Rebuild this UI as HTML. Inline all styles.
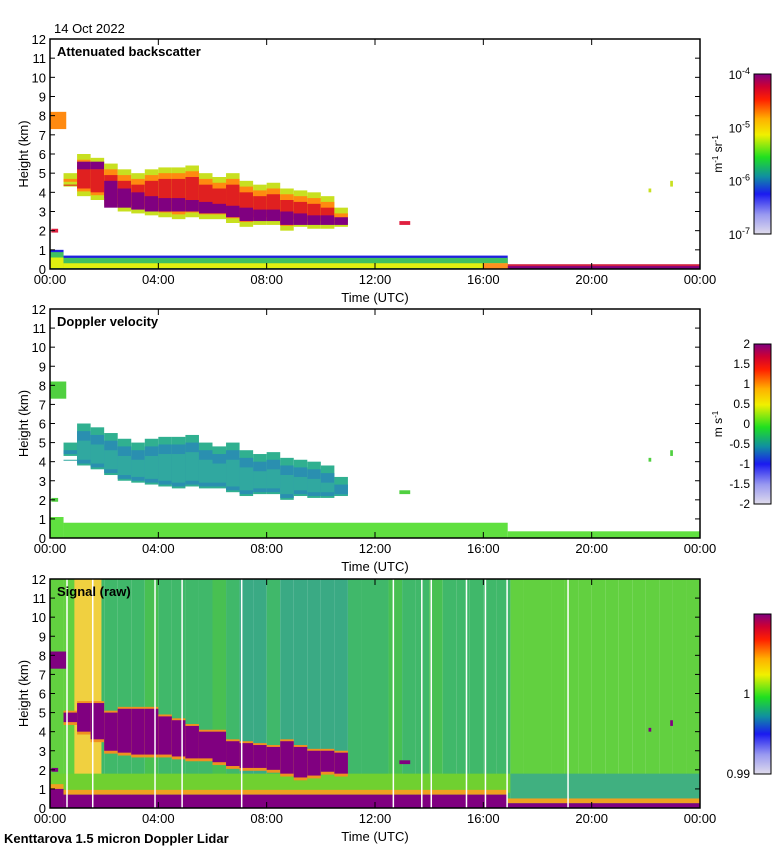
<!DOCTYPE html>
<html><head><meta charset="utf-8">
<style>
body{margin:0;background:#fff;width:780px;height:850px;overflow:hidden;font-family:"Liberation Sans",sans-serif}
svg text{font-family:"Liberation Sans",sans-serif}
</style></head>
<body>
<svg id="chart" width="780" height="850" xmlns="http://www.w3.org/2000/svg">
<defs>
<linearGradient id="cbar" x1="0" y1="1" x2="0" y2="0">
<stop offset="0" stop-color="#e0dcec"/><stop offset="0.12" stop-color="#9a9af0"/><stop offset="0.25" stop-color="#1a1af0"/>
<stop offset="0.36" stop-color="#1090a0"/><stop offset="0.48" stop-color="#20e020"/><stop offset="0.62" stop-color="#f0f000"/>
<stop offset="0.72" stop-color="#ffb000"/><stop offset="0.84" stop-color="#ff2000"/><stop offset="0.92" stop-color="#d00030"/><stop offset="1" stop-color="#800080"/>
</linearGradient>
</defs>
</svg>
<script>
// ---- data (hours, km) ----
const times = [0.5,1,1.5,2,2.5,3,3.5,4,4.5,5,5.5,6,6.5,7,7.5,8,8.5,9,9.5,10,10.5];
const cloudTop = [5.0,6.0,5.8,5.5,5.2,5.0,5.2,5.3,5.3,5.4,5.0,4.8,5.0,4.6,4.4,4.5,4.2,4.1,4.0,3.8,3.2];
const cloudBase = [4.3,3.8,3.6,3.3,3.0,2.9,2.8,2.7,2.6,2.7,2.6,2.6,2.4,2.2,2.3,2.3,2.0,2.2,2.1,2.1,2.2];
const coreTop = [0,5.6,5.6,4.6,4.2,4.0,3.8,3.7,3.7,3.6,3.5,3.4,3.3,3.2,3.1,3.1,3.0,2.9,2.8,2.8,2.7];
const coreBase = [0,5.2,5.2,3.2,3.2,3.1,3.0,3.0,3.0,3.0,2.9,2.9,2.7,2.5,2.5,2.5,2.3,2.3,2.3,2.3,2.3];
const sigTop = [5.0,5.5,5.5,5.0,5.2,5.2,5.2,4.8,4.6,4.3,4.0,4.0,3.5,3.4,3.3,3.2,3.5,3.2,3.0,3.0,2.9];
const sigBase = [4.5,4.0,3.6,3.0,2.9,2.8,2.8,2.8,2.7,2.6,2.6,2.4,2.2,2.1,2.1,2.0,1.8,1.6,1.7,1.9,1.8];
const blobs = [[0,0.6,7.3,8.2],[0.05,0.3,1.9,2.1],[12.9,13.3,2.3,2.5],[22.1,22.2,4.0,4.2],[22.9,23.0,4.3,4.6]];
const blHours = [0,0.5,16.9,24];
const blHeight = [1.0,0.7,0.25];
const sigTone = [0.2,0.3,0.1,0.5,0.6,0.6,0.5,0.4,0.5,0.5,0.6,0.5,0.4,0.6,0.7,0.7,0.6,0.7,0.8,0.7,0.8,0.8,0.6,0.5,0.6,0.4,0.5,0.5,0.4,0.5,0.6,0.5,0.5,0.6,0.3,0.3,0.2,0.3,0.3,0.2,0.2,0.3,0.2,0.2,0.1,0.2,0.2,0.3];
const whiteLines = [0.6,1.55,3.85,4.85,7.05,12.65,13.7,14.05,15.35,16.05,16.85,19.1];
const xTicks = ["00:00","04:00","08:00","12:00","16:00","20:00","00:00"];
const yTicks = [0,1,2,3,4,5,6,7,8,9,10,11,12];
const cb1Labels = ["-4","-5","-6","-7"];
const cb2Labels = ["2","1.5","1","0.5","0","-0.5","-1","-1.5","-2"];

const svg = document.getElementById('chart');
const NS = 'http://www.w3.org/2000/svg';
const X0 = 50, X1 = 700;
const panels = [{top:39,bottom:269,title:'Attenuated backscatter'},{top:309,bottom:538,title:'Doppler velocity'},{top:579,bottom:808,title:'Signal (raw)'}];
function xs(h){return X0 + (X1 - X0) * h / 24;}
function ysF(p){return k => p.bottom - (p.bottom - p.top) * k / 12;}
function mk(tag, attrs, parent){const e=document.createElementNS(NS,tag);for(const k in attrs)e.setAttribute(k,attrs[k]);(parent||svg).appendChild(e);return e;}
function rect(g,h0,h1,k0,k1,ys,fill){return mk('rect',{x:xs(h0),y:ys(k1),width:Math.max(1,xs(h1)-xs(h0)),height:Math.max(1,ys(k0)-ys(k1)),fill:fill},g);}
function txt(x,y,s,opt,parent){const t=mk('text',Object.assign({x:x,y:y,'font-size':13,fill:'#000'},opt||{}),parent);t.textContent=s;return t;}

const dt = 0.5;
panels.forEach((p,pi)=>{
  const ys = ysF(p);
  const g = mk('g',{});
  
  
  if(pi===2){
    for(let i=0;i<sigTone.length;i++){
      const v=sigTone[i];
      const c = v>0.6?'#3aaa84':v>0.45?'#40b86a':v>0.3?'#48c052':'#62d040';
      rect(g,i*dt,(i+1)*dt,0,12,ys,c);
    }
    rect(g,0.9,1.9,0.8,12,ys,'#f0d040');
    rect(g,0,17,0.8,1.8,ys,'#70d030');
    rect(g,17,24,0.25,1.8,ys,'#40b080');
  }
  // main cloud
  times.forEach((t,i)=>{
    if(pi===0){
      rect(g,t,t+dt,cloudBase[i],cloudTop[i],ys,'#c8e020');
      rect(g,t,t+dt,cloudBase[i]+0.25,cloudTop[i]-0.3,ys,'#ff8a10');
      rect(g,t,t+dt,cloudBase[i]+0.4,cloudTop[i]-0.6,ys,'#e02020');
      if(coreTop[i]>0) rect(g,t,t+dt,coreBase[i],coreTop[i],ys,'#800080');
    } else if(pi===1){
      rect(g,t,t+dt,cloudBase[i],cloudTop[i],ys,'#30b090');
      rect(g,t,t+dt,cloudBase[i]+0.1,cloudTop[i]-0.4,ys,'#2a8fb0');
      rect(g,t,t+dt,cloudBase[i]+0.3,cloudTop[i]-0.9,ys,'#30a8a0');
    } else {
      rect(g,t,t+dt,sigBase[i]-0.15,sigTop[i]+0.1,ys,'#f09020');
      rect(g,t,t+dt,sigBase[i],sigTop[i],ys,'#800080');
    }
  });
  blobs.forEach(b=>{
    const c = pi===0?(b[2]>7?'#ff8a10':b[2]>3.5?'#c8e020':'#e02040'):pi===1?'#50d040':'#800080';
    rect(g,b[0],b[1],b[2],b[3],ys,c);
  });
  // boundary layer
  for(let i=0;i<blHours.length-1;i++){
    const h=blHeight[i];
    if(pi===0){
      if(blHours[i]<16.9){
        rect(g,blHours[i],blHours[i+1],0,h,ys,'#2020e0');
        rect(g,blHours[i],blHours[i+1],0,h-0.12,ys,'#40c060');
        rect(g,blHours[i],blHours[i+1],0.05,h-0.4,ys,'#e0f010');
      } else {
        rect(g,blHours[i],blHours[i+1],0,h,ys,'#d02040');
        rect(g,blHours[i],blHours[i+1],0,h-0.1,ys,'#800080');
      }
    } else if(pi===1){
      rect(g,blHours[i],blHours[i+1],0,h+0.1,ys,'#60e040');
    } else {
      rect(g,blHours[i],blHours[i+1],h,h+0.25,ys,'#f0a020');
      rect(g,blHours[i],blHours[i+1],0,h,ys,'#800080');
    }
  }
  if(pi===0) rect(g,16,16.9,0,0.3,ys,'#ff9020');
  if(pi===2){
    whiteLines.forEach(h=>{const l=mk('rect',{x:xs(h),y:p.top,width:1.5,height:p.bottom-p.top,fill:'#fff'},g);
      });
  }
  // frame & ticks
  const fr = mk('rect',{x:X0,y:p.top,width:X1-X0,height:p.bottom-p.top,fill:'none',stroke:'#000','stroke-width':1.5});
  
  
  yTicks.forEach(k=>{
    const y=ys(k);
    mk('line',{x1:X0,x2:X0+5,y1:y,y2:y,stroke:'#000'});
    mk('line',{x1:X1-5,x2:X1,y1:y,y2:y,stroke:'#000'});
    const t=txt(X0-4,y+5,String(k),{'text-anchor':'end'});
    
    
  });
  xTicks.forEach((s,i)=>{
    const x=xs(i*4);
    mk('line',{x1:x,x2:x,y1:p.bottom-6,y2:p.bottom,stroke:'#000'});
    mk('line',{x1:x,x2:x,y1:p.top,y2:p.top+6,stroke:'#000'});
    const t=txt(x,p.bottom+15,s,{'text-anchor':'middle'});
    
    
  });
  const tt=txt(X0+7,p.top+17,p.title,{'font-weight':'bold'});
  
  
  const xl=txt(375,p.bottom+33,'Time (UTC)',{'text-anchor':'middle'});
  
  
  const yl=txt(0,0,'Height (km)',{'text-anchor':'middle',transform:`translate(28,${(p.top+p.bottom)/2}) rotate(-90)`});
  
  
  // colorbar
  const cy0=p.top+35, cy1=p.top+195;
  const cb=mk('rect',{x:754,y:cy0,width:17,height:cy1-cy0,fill:'url(#cbar)',stroke:'#000'});
  
  
  if(pi===0){
    cb1Labels.forEach((s,i)=>{const y=cy0+i*(cy1-cy0)/3;
      const t=txt(750,y+5,'10',{'text-anchor':'end','font-size':12});
      const sp=mk('tspan',{dy:-5,'font-size':9},t);sp.textContent=s;
      });
    const u=txt(0,0,'m',{'text-anchor':'middle','font-size':12,transform:`translate(722,${(cy0+cy1)/2}) rotate(-90)`});
    const a=mk('tspan',{dy:-4,'font-size':8},u);a.textContent='-1';
    const b=mk('tspan',{dy:4},u);b.textContent=' sr';
    const c=mk('tspan',{dy:-4,'font-size':8},u);c.textContent='-1';
    
  } else if(pi===1){
    cb2Labels.forEach((s,i)=>{const y=cy0+i*(cy1-cy0)/8;
      const t=txt(750,y+4,s,{'text-anchor':'end','font-size':12});
      });
    const u=txt(0,0,'m s',{'text-anchor':'middle','font-size':12,transform:`translate(722,${(cy0+cy1)/2}) rotate(-90)`});
    const a=mk('tspan',{dy:-4,'font-size':8},u);a.textContent='-1';
    
  } else {
    [['1',cy0+80],['0.99',cy1]].forEach(([s,y])=>{const t=txt(750,y+4,s,{'text-anchor':'end','font-size':12});
      });
  }
});
const d=txt(54,33,'14 Oct 2022',{'font-size':13});


const f=txt(4,843,'Kenttarova 1.5 micron Doppler Lidar',{'font-weight':'bold','font-size':13});


</script>
</body></html>
